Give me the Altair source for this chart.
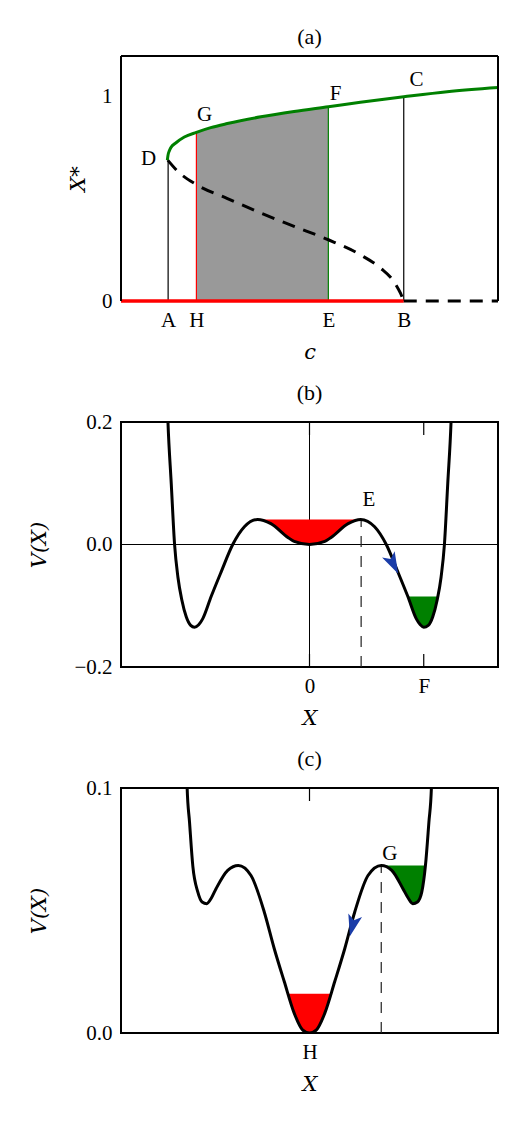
import altair as alt
import pandas as pd

SERIF = "Liberation Serif"
ITAL = "DejaVu Serif"
W, H = 377, 245

# ---------------- panel (a): bifurcation diagram ----------------
a_c_dom = [0.0, 1.0]
a_y_dom = [0.0, 1.2]
a_tick_c = [0.125, 0.2, 0.55, 0.75]
a_tick_lab = ["A", "H", "E", "B"]

upper_c = [0.123, 0.1245, 0.128, 0.132, 0.146, 0.168, 0.2, 0.238, 0.282, 0.371, 0.459, 0.55, 0.635, 0.75, 0.865, 1.0]
upper_x = [0.690, 0.712, 0.735, 0.751, 0.775, 0.803, 0.826, 0.849, 0.869, 0.902, 0.928, 0.951, 0.973, 1.000, 1.025, 1.046]

lower_c = [0.124, 0.150, 0.2, 0.2824, 0.3707, 0.4589, 0.55, 0.6354, 0.6884, 0.7237, 0.7413, 0.75]
lower_x = [0.690, 0.636, 0.570, 0.502, 0.431, 0.366, 0.300, 0.226, 0.161, 0.095, 0.038, 0.0]

vline_c = [0.125, 0.2, 0.55, 0.75]
vline_top = [0.690, 0.826, 0.951, 1.000]
vline_col = ["black", "red", "green", "black"]

zero_red_c = [0.0, 0.75]
zero_dash_c = [0.75, 1.0]

a_lab_text = ["D", "G", "F", "C"]
a_lab_c = [0.073, 0.222, 0.569, 0.784]
a_lab_y = [0.695, 0.911, 1.016, 1.084]

# ---------------- panel (b): potential at E ----------------
b_x_dom = [-1.65, 1.65]
b_v_dom = [-0.2, 0.2]
b_X = [-1.25, -1.239, -1.210, -1.181, -1.152, -1.117, -1.079, -1.040, -1.007, -0.970, -0.934, -0.861,
       -0.774, -0.672, -0.570, -0.454, -0.338, -0.192, -0.134, 0.0, 0.134, 0.192, 0.338, 0.448, 0.570,
       0.672, 0.774, 0.861, 0.934, 0.970, 1.000, 1.040, 1.079, 1.117, 1.152, 1.181, 1.210, 1.239, 1.25]
b_V = [0.26, 0.200, 0.099, 0.000, -0.053, -0.091, -0.118, -0.132, -0.135, -0.131, -0.121, -0.085,
       -0.045, 0.000, 0.029, 0.041, 0.034, 0.012, 0.005, 0.0, 0.005, 0.012, 0.034, 0.041, 0.029,
       0.000, -0.045, -0.085, -0.121, -0.131, -0.135, -0.132, -0.118, -0.091, -0.053, 0.000, 0.099, 0.200, 0.26]
b_red_X = [-0.454, -0.338, -0.192, -0.134, 0.0, 0.134, 0.192, 0.338, 0.448]
b_red_V = [0.041, 0.034, 0.012, 0.005, 0.0, 0.005, 0.012, 0.034, 0.041]
b_red_level = 0.041
b_green_X = [0.861, 0.934, 0.970, 1.000, 1.040, 1.079, 1.117, 1.122]
b_green_V = [-0.085, -0.121, -0.131, -0.135, -0.132, -0.118, -0.091, -0.085]
b_green_level = -0.085
b_E = 0.452
b_E_top = 0.041
b_F = 1.0
b_arrow = {"X": 0.731, "V": -0.031, "angle": 153}
b_lab = {"X": 0.52, "V": 0.072, "t": "E"}

# ---------------- panel (c): potential at G ----------------
c_x_dom = [-1.65, 1.65]
c_v_dom = [0.0, 0.1]
c_X = [-1.08, -1.071, -1.050, -1.021, -0.978, -0.940, -0.899, -0.860, -0.818, -0.716, -0.623, -0.512,
       -0.396, -0.309, -0.221, -0.134, -0.061, 0.0, 0.061, 0.134, 0.221, 0.309, 0.396, 0.512, 0.628,
       0.720, 0.818, 0.865, 0.904, 0.945, 0.983, 1.015, 1.045, 1.067, 1.076]
c_V = [0.115, 0.100, 0.086, 0.068, 0.0576, 0.0535, 0.0528, 0.055, 0.0589, 0.0664, 0.0684, 0.0643,
       0.0494, 0.0345, 0.0210, 0.0081, 0.0013, 0.0, 0.0013, 0.0081, 0.0210, 0.0345, 0.0494, 0.0643, 0.0684,
       0.0664, 0.0589, 0.055, 0.0528, 0.0535, 0.0576, 0.0684, 0.086, 0.100, 0.115]
c_red_X = [-0.187, -0.134, -0.061, 0.0, 0.061, 0.134, 0.187]
c_red_V = [0.016, 0.0081, 0.0013, 0.0, 0.0013, 0.0081, 0.016]
c_red_level = 0.016
c_green_X = [0.628, 0.720, 0.818, 0.865, 0.904, 0.945, 0.983, 1.015]
c_green_V = [0.0684, 0.0664, 0.0589, 0.055, 0.0528, 0.0535, 0.0576, 0.0684]
c_green_level = 0.0684
c_G = 0.628
c_G_top = 0.0684
c_arrow = {"X": 0.378, "V": 0.044, "angle": 194}
c_lab = {"X": 0.703, "V": 0.0732, "t": "G"}

ARROW = "M0,-1L0.62,0.9L0,0.45L-0.62,0.9Z"
BLUE = "#1a3ca8"


def label_expr(values, labels):
    parts = [f"datum.value == {v} ? '{l}'" for v, l in zip(values, labels)]
    return " : ".join(parts) + " : ''"


def xaxis(values, labels, title):
    return alt.Axis(values=values, labelExpr=label_expr(values, labels), title=title,
                    domain=False, ticks=False, grid=False, labelFlush=False, labelOverlap=False,
                    labelFont=SERIF, labelFontSize=21, labelColor="black", labelPadding=8,
                    titleFont=ITAL, titleFontSize=21, titleFontStyle="italic", titleFontWeight="normal",
                    titleColor="black", titlePadding=11)


def yaxis(values, fmt, title, title_x):
    return alt.Axis(values=values, format=fmt, title=title,
                    domain=False, ticks=False, grid=False, labelFlush=False, labelOverlap=False,
                    labelFont=SERIF, labelFontSize=21, labelColor="black", labelPadding=9,
                    labelBaseline="middle",
                    titleFont=ITAL, titleFontSize=21, titleFontStyle="italic", titleFontWeight="normal",
                    titleColor="black", titleX=title_x, titleY=H / 2, titleAngle=270,
                    titleAlign="center", titleBaseline="middle")


def ptitle(t):
    return alt.Title(t, font=SERIF, fontSize=22, fontWeight="normal", color="black",
                     anchor="middle", baseline="bottom", offset=-16)


# ---------- build (a) ----------
ax_x = xaxis(a_tick_c, a_tick_lab, "c")
ax_y = yaxis([0, 1], "d", "X*", -43)
sx_a = alt.Scale(domain=a_c_dom, nice=False, zero=False)
sy_a = alt.Scale(domain=a_y_dom, nice=False)


def XA(f="c"):
    return alt.X(f"{f}:Q", scale=sx_a, axis=ax_x)


def YA(f="y"):
    return alt.Y(f"{f}:Q", scale=sy_a, axis=ax_y)


upper_df = pd.DataFrame({"c": upper_c, "y": upper_x})
lower_df = pd.DataFrame({"c": lower_c, "y": lower_x})
fill_df = upper_df[(upper_df.c >= vline_c[1]) & (upper_df.c <= vline_c[2])]
vl_df = pd.DataFrame({"c": vline_c, "y": [0.0] * 4, "y2": vline_top, "col": vline_col})
red_df = pd.DataFrame({"c": zero_red_c, "y": [0.0, 0.0]})
dash0_df = pd.DataFrame({"c": zero_dash_c, "y": [0.0, 0.0]})
lab_a_df = pd.DataFrame({"c": a_lab_c, "y": a_lab_y, "t": a_lab_text})
frame_a_df = pd.DataFrame({"c": [a_c_dom[0], a_c_dom[1], a_c_dom[0]],
                           "c2": [a_c_dom[0], a_c_dom[1], a_c_dom[1]],
                           "y": [a_y_dom[0], a_y_dom[0], a_y_dom[1]],
                           "y2": [a_y_dom[1], a_y_dom[1], a_y_dom[1]]})

a_layers = [
    alt.Chart(fill_df).mark_area(color="#999999", interpolate="monotone").encode(x=XA(), y=YA()),
    alt.Chart(vl_df).mark_rule(strokeWidth=1.2).encode(x=XA(), y=YA(), y2="y2:Q",
                                                        color=alt.Color("col:N", scale=None)),
    alt.Chart(red_df).mark_line(color="#ff0000", strokeWidth=3.5).encode(x=XA(), y=YA()),
    alt.Chart(dash0_df).mark_line(color="black", strokeWidth=3, strokeDash=[13, 9]).encode(x=XA(), y=YA()),
    alt.Chart(lower_df).mark_line(color="black", strokeWidth=3, strokeDash=[13, 9],
                                  interpolate="monotone").encode(x=XA(), y=YA()),
    alt.Chart(upper_df).mark_line(color="#008000", strokeWidth=3, interpolate="monotone").encode(x=XA(), y=YA()),
    alt.Chart(lab_a_df).mark_text(font=SERIF, fontSize=21, color="black", baseline="middle",
                                  align="center").encode(x=XA(), y=YA(), text="t:N"),
    alt.Chart(frame_a_df).mark_rule(color="black", strokeWidth=2).encode(x=XA(), x2="c2:Q", y=YA(), y2="y2:Q"),
]
panel_a = alt.layer(*a_layers).properties(width=W, height=H, title=ptitle("(a)"),
                                          view=alt.ViewBackground(stroke="transparent"))


# ---------- build (b)/(c) ----------
def potential_panel(xdom, vdom, yvals, xvals, xlabs, curveX, curveV, redX, redV, redL,
                    greenX, greenV, greenL, dashX, dashTop, arrow, lab, tickX, axis_lines, title):
    sx = alt.Scale(domain=xdom, nice=False, zero=False)
    sy = alt.Scale(domain=vdom, nice=False, zero=False)
    axx = xaxis(xvals, xlabs, "X")
    axy = yaxis(yvals, ".1f", "V(X)", -82)

    def XX():
        return alt.X("X:Q", scale=sx, axis=axx)

    def YY():
        return alt.Y("V:Q", scale=sy, axis=axy)

    curve = pd.DataFrame({"X": curveX, "V": curveV})
    red = pd.DataFrame({"X": redX, "V": redV, "L": [redL] * len(redX)})
    green = pd.DataFrame({"X": greenX, "V": greenV, "L": [greenL] * len(greenX)})
    dash = pd.DataFrame({"X": [dashX], "V": [vdom[0]], "V2": [dashTop]})
    arr = pd.DataFrame([arrow])
    labd = pd.DataFrame({"X": [lab["X"]], "V": [lab["V"]], "t": [lab["t"]]})
    ticks = pd.DataFrame({"X": tickX})

    layers = []
    if axis_lines:
        layers.append(alt.Chart(pd.DataFrame({"V": [0.0]})).mark_rule(color="black", strokeWidth=1)
                      .encode(y=YY()))
        layers.append(alt.Chart(pd.DataFrame({"X": [0.0]})).mark_rule(color="black", strokeWidth=1)
                      .encode(x=XX()))
    layers += [
        alt.Chart(ticks).mark_rule(color="black", strokeWidth=1.2).encode(x=XX(), y=alt.value(0), y2=alt.value(13)),
        alt.Chart(ticks).mark_rule(color="black", strokeWidth=1.2).encode(x=XX(), y=alt.value(H), y2=alt.value(H - 13)),
        alt.Chart(dash).mark_rule(color="#222222", strokeWidth=1.2, strokeDash=[11, 9]).encode(
            x=XX(), y=YY(), y2="V2:Q"),
        alt.Chart(red).mark_area(color="#ff0000", interpolate="monotone").encode(x=XX(), y=YY(), y2="L:Q"),
        alt.Chart(green).mark_area(color="#008000", interpolate="monotone").encode(x=XX(), y=YY(), y2="L:Q"),
        alt.Chart(curve).mark_line(color="black", strokeWidth=3, interpolate="monotone", clip=True).encode(
            x=XX(), y=YY()),
        alt.Chart(arr).mark_point(shape=ARROW, filled=True, color=BLUE, opacity=1, size=520,
                                  strokeWidth=0).encode(x=XX(), y=YY(), angle=alt.Angle("angle:Q", scale=None)),
        alt.Chart(labd).mark_text(font=SERIF, fontSize=21, color="black", baseline="middle",
                                  align="center").encode(x=XX(), y=YY(), text="t:N"),
    ]
    return alt.layer(*layers).properties(width=W, height=H, title=ptitle(title))


panel_b = potential_panel(b_x_dom, b_v_dom, [-0.2, 0.0, 0.2], [0.0, b_F], ["0", "F"], b_X, b_V,
                          b_red_X, b_red_V, b_red_level, b_green_X, b_green_V, b_green_level,
                          b_E, b_E_top, b_arrow, b_lab, [0.0, b_F], True, "(b)")
panel_c = potential_panel(c_x_dom, c_v_dom, [0.0, 0.1], [0.0], ["H"], c_X, c_V,
                          c_red_X, c_red_V, c_red_level, c_green_X, c_green_V, c_green_level,
                          c_G, c_G_top, c_arrow, c_lab, [0.0], False, "(c)")

chart = alt.vconcat(panel_a, panel_b, panel_c, spacing=18).properties(
    padding={"left": 27, "top": 25, "right": 0, "bottom": 0},
    background="white",
).configure_view(stroke="black", strokeWidth=2)

chart.save("out.html", embed_options={"renderer": "svg", "actions": False})
